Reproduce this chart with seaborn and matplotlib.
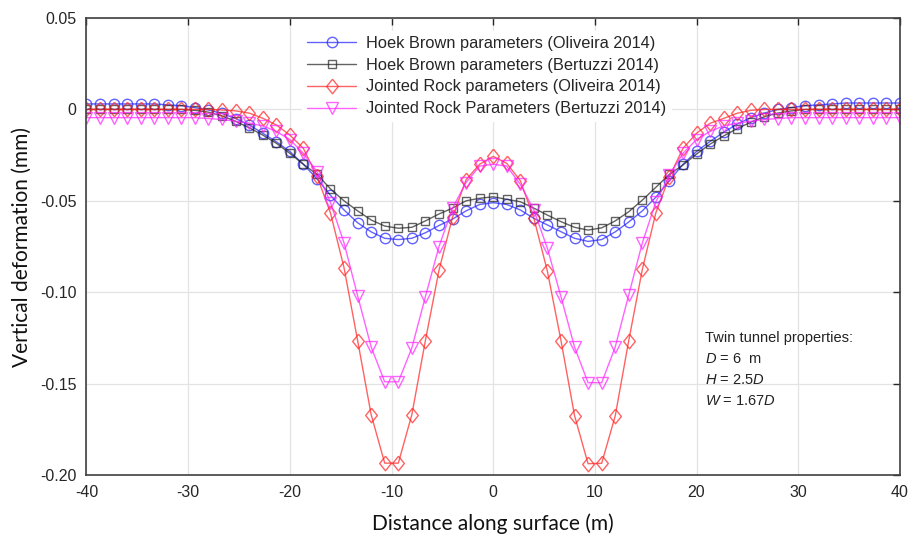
import numpy as np
import pandas as pd
import seaborn as sns
import matplotlib.pyplot as plt

distance = np.round(np.linspace(-40, 40, 61), 2)

hb_oliveira = [0.003, 0.003, 0.003, 0.003, 0.003, 0.003, 0.0025, 0.002, 0.001, -0.0003,
               -0.0022, -0.005, -0.0085, -0.013, -0.0177, -0.023, -0.030, -0.038, -0.047, -0.055,
               -0.062, -0.067, -0.0705, -0.0712, -0.0705, -0.0675, -0.0635, -0.060, -0.0555, -0.052,
               -0.051,
               -0.052, -0.055, -0.0596, -0.0632, -0.0669, -0.0705, -0.0722, -0.0712, -0.067, -0.0616,
               -0.0555, -0.048, -0.039, -0.030, -0.023, -0.0175, -0.0125, -0.008, -0.0045, -0.002,
               0.0, 0.001, 0.002, 0.0025, 0.003, 0.0035, 0.0035, 0.0035, 0.0035, 0.0035]

hb_bertuzzi = [0.0, 0.0, 0.0, 0.0, 0.0, 0.0, 0.0, 0.0, -0.0005, -0.0015,
               -0.0035, -0.0065, -0.010, -0.014, -0.0185, -0.024, -0.030, -0.0355, -0.0435, -0.050,
               -0.0555, -0.0605, -0.0638, -0.065, -0.0645, -0.061, -0.0572, -0.054, -0.050, -0.0486,
               -0.0478,
               -0.0492, -0.0505, -0.054, -0.0578, -0.0614, -0.0645, -0.066, -0.0648, -0.061, -0.056,
               -0.0496, -0.0426, -0.0355, -0.0304, -0.0244, -0.019, -0.0145, -0.0105, -0.007, -0.004,
               -0.002, -0.0008, 0.0, 0.0, 0.0, 0.0, 0.0, 0.0, 0.0, 0.0]

jr_oliveira = [0.0, 0.0, 0.0, 0.0, 0.0, 0.0, 0.0, 0.0, 0.0, 0.0,
               -0.0003, -0.0008, -0.002, -0.0048, -0.0085, -0.014, -0.0213, -0.0365, -0.0567, -0.0866,
               -0.1265, -0.167, -0.1935, -0.1935, -0.167, -0.1265, -0.088, -0.059, -0.0385, -0.030,
               -0.0257,
               -0.0295, -0.039, -0.0595, -0.0885, -0.1265, -0.1675, -0.1938, -0.1936, -0.1677, -0.1265,
               -0.0875, -0.0565, -0.0368, -0.0213, -0.013, -0.0076, -0.0049, -0.0021, -0.0005, 0.0,
               0.0, 0.0, 0.0, 0.0, 0.0, 0.0, 0.0, 0.0, 0.0, 0.0]

jr_bertuzzi = [-0.0045, -0.0045, -0.0045, -0.0045, -0.0045, -0.0045, -0.0045, -0.0045, -0.0045, -0.005,
               -0.0055, -0.0065, -0.0075, -0.009, -0.012, -0.0165, -0.024, -0.034, -0.051, -0.073,
               -0.102, -0.130, -0.149, -0.149, -0.1305, -0.1025, -0.075, -0.054, -0.040, -0.031,
               -0.030,
               -0.031, -0.041, -0.055, -0.076, -0.1025, -0.130, -0.1495, -0.1495, -0.130, -0.1015,
               -0.073, -0.0505, -0.0359, -0.024, -0.0165, -0.012, -0.009, -0.0075, -0.0065, -0.0055,
               -0.005, -0.0045, -0.0045, -0.0045, -0.0045, -0.0045, -0.0045, -0.0045, -0.0045, -0.0045]

labels = ['Hoek Brown parameters (Oliveira 2014)',
          'Hoek Brown parameters (Bertuzzi 2014)',
          'Jointed Rock parameters (Oliveira 2014)',
          'Jointed Rock Parameters (Bertuzzi 2014)']
colors = ['#2020ff', '#202020', '#ff2020', '#ff20ff']
# MATLAB style diamond is a bit taller than wide
diamond = [(0, 1), (0.8, 0), (0, -1), (-0.8, 0), (0, 1)]
markers = ['o', 's', diamond, 'v']
msizes = [7.5, 6, 10.5, 8]

xticks = [-40, -30, -20, -10, 0, 10, 20, 30, 40]
yticks = [0.05, 0, -0.05, -0.10, -0.15, -0.20]
ytick_labels = ['0.05', '0', '-0.05', '-0.10', '-0.15', '-0.20']

sns.set_theme(style='whitegrid')
plt.rcParams['font.family'] = ['Liberation Sans', 'DejaVu Sans']
plt.rcParams['mathtext.fontset'] = 'custom'
plt.rcParams['mathtext.rm'] = 'Liberation Sans'
plt.rcParams['mathtext.it'] = 'Liberation Sans:italic'

fig = plt.figure(figsize=(9.15, 5.46), dpi=100)
ax = fig.add_axes([0.0945, 0.130, 0.889, 0.837])

series = [hb_oliveira, hb_bertuzzi, jr_oliveira, jr_bertuzzi]
for vals, lab, col, mk, ms in zip(series, labels, colors, markers, msizes):
    df = pd.DataFrame({'x': distance, 'y': vals})
    sns.lineplot(data=df, x='x', y='y', ax=ax, color=col, marker=mk, markersize=ms,
                 markerfacecolor='none', markeredgecolor=col, markeredgewidth=1.0,
                 linewidth=1.0, alpha=0.7, label=lab, errorbar=None)

ax.set_xlim(-40, 40)
ax.set_ylim(-0.20, 0.05)
ax.set_xticks(xticks)
ax.set_xticklabels([str(t) for t in xticks])
ax.set_yticks(yticks, labels=ytick_labels)
ax.tick_params(direction='in', top=True, right=True, length=5, width=1,
               labelsize=11.5, colors='#262626', pad=7)
ax.grid(True, color='#e3e3e3', linewidth=0.9)
for s in ax.spines.values():
    s.set_color('#404040')
    s.set_linewidth(1.2)

ax.set_xlabel('Distance along surface (m)', fontsize=15, family=['Lato', 'DejaVu Sans'],
              color='#111111', labelpad=10)
ax.set_ylabel('Vertical deformation (mm)', fontsize=15, family=['Lato', 'DejaVu Sans'],
              color='#111111', labelpad=6)

leg = ax.legend(loc='upper left', bbox_to_anchor=(0.255, 0.99), fontsize=11.8,
                frameon=True, facecolor='white', edgecolor='white', framealpha=1,
                fancybox=False, handlelength=3.0, handletextpad=0.6,
                labelspacing=0.42, borderpad=0.3)

ax.text(20.8, -0.125, 'Twin tunnel properties:', fontsize=10.5, color='#222222', va='center')
ax.text(20.8, -0.1365, '$D$ = 6  m', fontsize=10.5, color='#222222', va='center')
ax.text(20.8, -0.148, '$H$ = 2.5$D$', fontsize=10.5, color='#222222', va='center')
ax.text(20.8, -0.1595, '$W$ = 1.67$D$', fontsize=10.5, color='#222222', va='center')

fig.savefig('out.png', dpi=100, facecolor='white')
